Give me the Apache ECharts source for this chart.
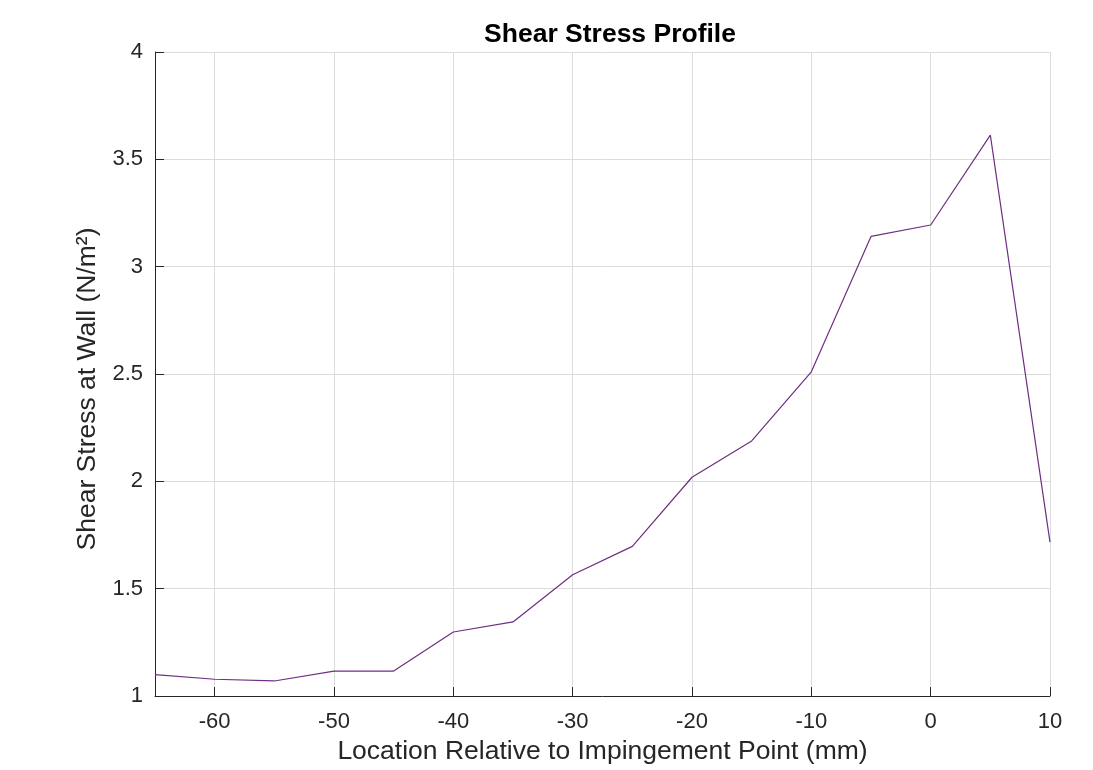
<!DOCTYPE html>
<html>
<head>
<meta charset="utf-8">
<script src="https://cdn.jsdelivr.net/npm/echarts@6/dist/echarts.min.js"></script>
<style>html,body{margin:0;padding:0;background:#fff}#c{width:1093px;height:770px}</style>
</head>
<body>
<div id="c"></div>
<script>
const locations = [-65, -60, -55, -50, -45, -40, -35, -30, -25, -20, -15, -10, -5, 0, 5, 10];
const shearStress = [1.10, 1.078, 1.07, 1.116, 1.116, 1.298, 1.345, 1.565, 1.697, 2.019, 2.188, 2.51, 3.141, 3.194, 3.613, 1.717];
const xTicks = [-60, -50, -40, -30, -20, -10, 0, 10];
const yTicks = [1, 1.5, 2, 2.5, 3, 3.5, 4];

const FONT = '"Liberation Sans", Arial, Helvetica, sans-serif';
const TXT = '#262626';
const chart = echarts.init(document.getElementById('c'), null, {renderer: 'canvas'});
chart.setOption({
  animation: false,
  backgroundColor: '#fff',
  title: {
    text: 'Shear Stress Profile',
    left: 605, top: 16, textAlign: 'center',
    textStyle: {fontFamily: FONT, fontSize: 26.5, fontWeight: 'bold', color: '#000'}
  },
  grid: {left: 155, right: 43, top: 52, bottom: 74, containLabel: false},
  xAxis: {
    type: 'value', min: -65, max: 10,
    name: 'Location Relative to Impingement Point (mm)',
    nameLocation: 'middle', nameGap: 42,
    nameTextStyle: {fontFamily: FONT, fontSize: 26.5, color: TXT},
    axisLine: {show: true, onZero: false, lineStyle: {color: TXT, width: 1}},
    axisTick: {show: true, inside: true, length: 9, customValues: xTicks, lineStyle: {color: TXT, width: 1}},
    axisLabel: {customValues: xTicks, margin: 15, fontFamily: FONT, fontSize: 22, color: TXT},
    splitLine: {show: true, lineStyle: {color: '#dcdcdc', width: 1}}
  },
  yAxis: {
    type: 'value', min: 1, max: 4, interval: 0.5,
    name: 'Shear Stress at Wall (N/m²)',
    nameLocation: 'middle', nameGap: 52, nameRotate: 90,
    nameTextStyle: {fontFamily: FONT, fontSize: 26.5, color: TXT, padding: [0, 30, 0, 0]},
    axisLine: {show: true, onZero: false, lineStyle: {color: TXT, width: 1}},
    axisTick: {show: true, inside: true, length: 9, lineStyle: {color: TXT, width: 1}},
    axisLabel: {margin: 12, fontFamily: FONT, fontSize: 22, color: TXT,
      formatter: v => String(v)},
    splitLine: {show: true, lineStyle: {color: '#dcdcdc', width: 1}}
  },
  series: [{
    type: 'line',
    data: locations.map((x, i) => [x, shearStress[i]]),
    showSymbol: false,
    lineStyle: {color: '#6E2F80', width: 1.2},
    itemStyle: {color: '#6E2F80'}
  }]
});
</script>
</body>
</html>
